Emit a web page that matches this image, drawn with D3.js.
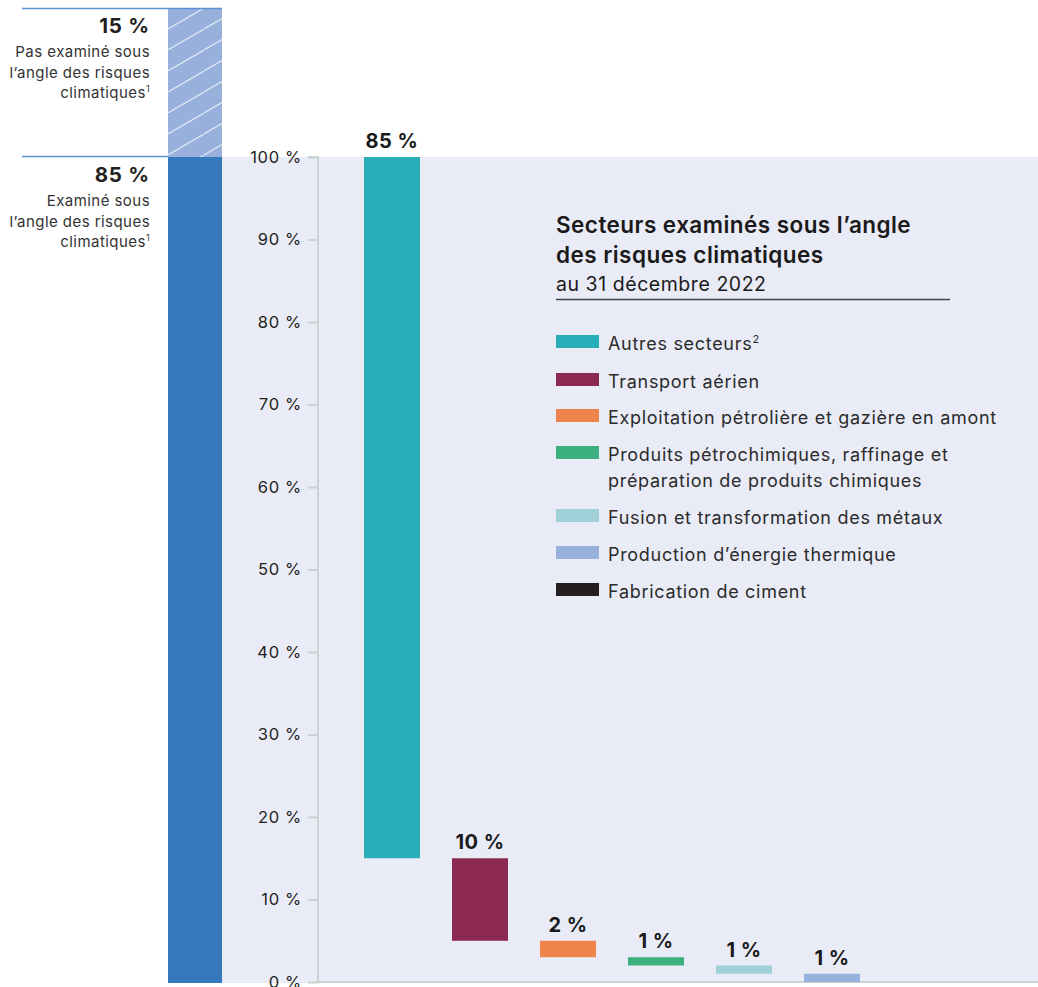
<!DOCTYPE html>
<html>
<head>
<meta charset="utf-8">
<script src="https://cdn.jsdelivr.net/npm/d3@7"></script>
<style>
  html, body { margin: 0; padding: 0; background: #ffffff; }
  svg { display: block; font-family: Inter, "Open Sans", sans-serif; }
</style>
</head>
<body>
<svg id="chart" width="1038" height="987"></svg>
<script>
// Portfolio split: share examined / not examined for climate risk
const splitLabels = ["Examiné sous l’angle des risques climatiques", "Pas examiné sous l’angle des risques climatiques"];
const splitValues = [85, 15];

// Breakdown of the examined share by sector (waterfall, top-down)
const sectors = [
  "Autres secteurs",
  "Transport aérien",
  "Exploitation pétrolière et gazière en amont",
  "Produits pétrochimiques, raffinage et préparation de produits chimiques",
  "Fusion et transformation des métaux",
  "Production d’énergie thermique",
  "Fabrication de ciment"
];
const sectorValues = [85, 10, 2, 1, 1, 1, 0];
const sectorColors = ["#27aeb9", "#8b2950", "#ee834c", "#3cb07e", "#a0d1d8", "#97b0dc", "#231f20"];

// Legend text, split into drawn lines (superscript note marker kept separately)
const legendLines = [
  ["Autres secteurs"],
  ["Transport aérien"],
  ["Exploitation pétrolière et gazière en amont"],
  ["Produits pétrochimiques, raffinage et", "préparation de produits chimiques"],
  ["Fusion et transformation des métaux"],
  ["Production d’énergie thermique"],
  ["Fabrication de ciment"]
];
const legendNotes = ["2", "", "", "", "", "", ""];

const yTicks = [0, 10, 20, 30, 40, 50, 60, 70, 80, 90, 100];
const titleLines = ["Secteurs examinés sous l’angle", "des risques climatiques"];
const subtitle = "au 31 décembre 2022";

const svg = d3.select("#chart");
const pct = v => d3.format("d")(v) + "\u00a0%";

// Scales
const y = d3.scaleLinear().domain([0, 100]).range([982, 157]);
const x = d3.scaleBand().domain(sectors).range([320, 992]).paddingInner(0.3636).paddingOuter(0.5);
// The left split bar: examined part spans the whole right-hand axis, the rest sits above it
const yLeft = d3.scaleLinear().domain([0, splitValues[0], 100]).range([983, 157, 8]);

// Plot background
svg.append("rect")
  .attr("x", 222).attr("y", y(100))
  .attr("width", 1038 - 222).attr("height", 983 - y(100))
  .attr("fill", "#e9ebf6");

// Hatch pattern for the non-examined share
const defs = svg.append("defs");
const pat = defs.append("pattern")
  .attr("id", "hatch").attr("patternUnits", "userSpaceOnUse")
  .attr("width", 36).attr("height", 21)
  .attr("x", 168).attr("y", 8);
pat.append("rect").attr("width", 36).attr("height", 21).attr("fill", "#97b0dc");
pat.append("path")
  .attr("d", "M-3,22.75 L39,-1.75")
  .attr("stroke", "#ffffff").attr("stroke-opacity", 0.75).attr("stroke-width", 1.1);

// Left split bar
const splitData = [
  { v0: 0, v1: splitValues[0], fill: "#3579bc" },
  { v0: splitValues[0], v1: 100, fill: "url(#hatch)" }
];
svg.selectAll("rect.split").data(splitData).join("rect")
  .attr("class", "split")
  .attr("x", 168).attr("width", 54)
  .attr("y", d => yLeft(d.v1))
  .attr("height", d => yLeft(d.v0) - yLeft(d.v1))
  .attr("fill", d => d.fill);

// Split separator lines
svg.append("line").attr("x1", 22).attr("x2", 222)
  .attr("y1", yLeft(100) + 0.5).attr("y2", yLeft(100) + 0.5)
  .attr("stroke", "#5b8fcf").attr("stroke-width", 1.6);
svg.append("line").attr("x1", 22).attr("x2", 168)
  .attr("y1", yLeft(splitValues[0]) - 0.5).attr("y2", yLeft(splitValues[0]) - 0.5)
  .attr("stroke", "#5b8fcf").attr("stroke-width", 1.6);

// Split labels
function splitLabel(yTop, value, lines) {
  const g = svg.append("g").attr("text-anchor", "end");
  g.append("text").attr("x", 150).attr("y", yTop + 25)
    .attr("font-size", 20.5).attr("font-weight", 700).attr("letter-spacing", 0.8).attr("fill", "#231f20")
    .text(pct(value));
  lines.forEach((ln, i) => {
    const t = g.append("text").attr("x", 150).attr("y", yTop + 49 + i * 20.5)
      .attr("font-size", 15).attr("letter-spacing", 0.45).attr("fill", "#333333").text(ln);
    if (i === lines.length - 1) {
      t.append("tspan").attr("dy", -6).attr("font-size", 9).text("1");
    }
  });
}
splitLabel(yLeft(100), splitValues[1], ["Pas examiné sous", "l’angle des risques", "climatiques"]);
splitLabel(yLeft(splitValues[0]), splitValues[0], ["Examiné sous", "l’angle des risques", "climatiques"]);

// Y axis
const yAxis = d3.axisLeft(y).tickValues(yTicks).tickSize(10).tickPadding(6).tickFormat(pct);
const ga = svg.append("g").attr("transform", "translate(318,0)").call(yAxis);
ga.select(".domain").attr("stroke", "#c9d3d1").attr("stroke-width", 2).attr("d", `M-10,${y(100)}H0V${y(0)}`);
ga.selectAll(".tick line").attr("stroke", "#c9d3d1").attr("stroke-width", 2);
ga.selectAll(".tick text").attr("font-size", 16.5).attr("letter-spacing", 0.7).attr("fill", "#231f20")
  .attr("font-family", "Inter, sans-serif");
// Baseline
svg.append("line").attr("x1", 318).attr("x2", 1038).attr("y1", y(0)).attr("y2", y(0))
  .attr("stroke", "#c9d3d1").attr("stroke-width", 2);

// Waterfall bars: each sector hangs from the running remainder
let running = 100;
const bars = sectors.map((s, i) => {
  const top = running;
  running -= sectorValues[i];
  return { sector: s, value: sectorValues[i], top: top, bottom: running, color: sectorColors[i] };
});

svg.selectAll("rect.bar").data(bars.filter(d => d.value > 0)).join("rect")
  .attr("class", "bar")
  .attr("x", d => x(d.sector)).attr("width", x.bandwidth())
  .attr("y", d => y(d.top)).attr("height", d => y(d.bottom) - y(d.top))
  .attr("fill", d => d.color);

svg.selectAll("text.barlabel").data(bars.filter(d => d.value > 0)).join("text")
  .attr("class", "barlabel")
  .attr("x", d => x(d.sector) + x.bandwidth() / 2)
  .attr("y", d => y(d.top) - 9)
  .attr("text-anchor", "middle").attr("font-size", 20).attr("font-weight", 700)
  .attr("letter-spacing", 0.5).attr("fill", "#1a1a1a")
  .text(d => pct(d.value));

// Legend block
const lg = svg.append("g").attr("transform", "translate(556,0)");
titleLines.forEach((t, i) => {
  lg.append("text").attr("x", 0).attr("y", 233 + i * 29.5)
    .attr("font-size", 22.5).attr("font-weight", 600).attr("letter-spacing", 0.45)
    .attr("fill", "#1a1a1a").text(t);
});
lg.append("text").attr("x", 0).attr("y", 291)
  .attr("font-size", 19.5).attr("letter-spacing", 0.55).attr("fill", "#1a1a1a").text(subtitle);
lg.append("line").attr("x1", 0).attr("x2", 394).attr("y1", 299.5).attr("y2", 299.5)
  .attr("stroke", "#444444").attr("stroke-width", 1.5);

const swatchY = [335, 373, 409, 446, 509, 546, 583];
legendLines.forEach((lines, i) => {
  lg.append("rect").attr("x", 0).attr("y", swatchY[i]).attr("width", 43).attr("height", 13)
    .attr("fill", sectorColors[i]);
  lines.forEach((ln, j) => {
    const t = lg.append("text").attr("x", 52).attr("y", swatchY[i] + 15 + j * 25.5)
      .attr("font-size", 18).attr("letter-spacing", 0.7).attr("fill", "#2b2b2b").text(ln);
    if (j === 0 && legendNotes[i]) {
      t.append("tspan").attr("dy", -7).attr("font-size", 11).text(legendNotes[i]);
    }
  });
});
</script>
</body>
</html>
